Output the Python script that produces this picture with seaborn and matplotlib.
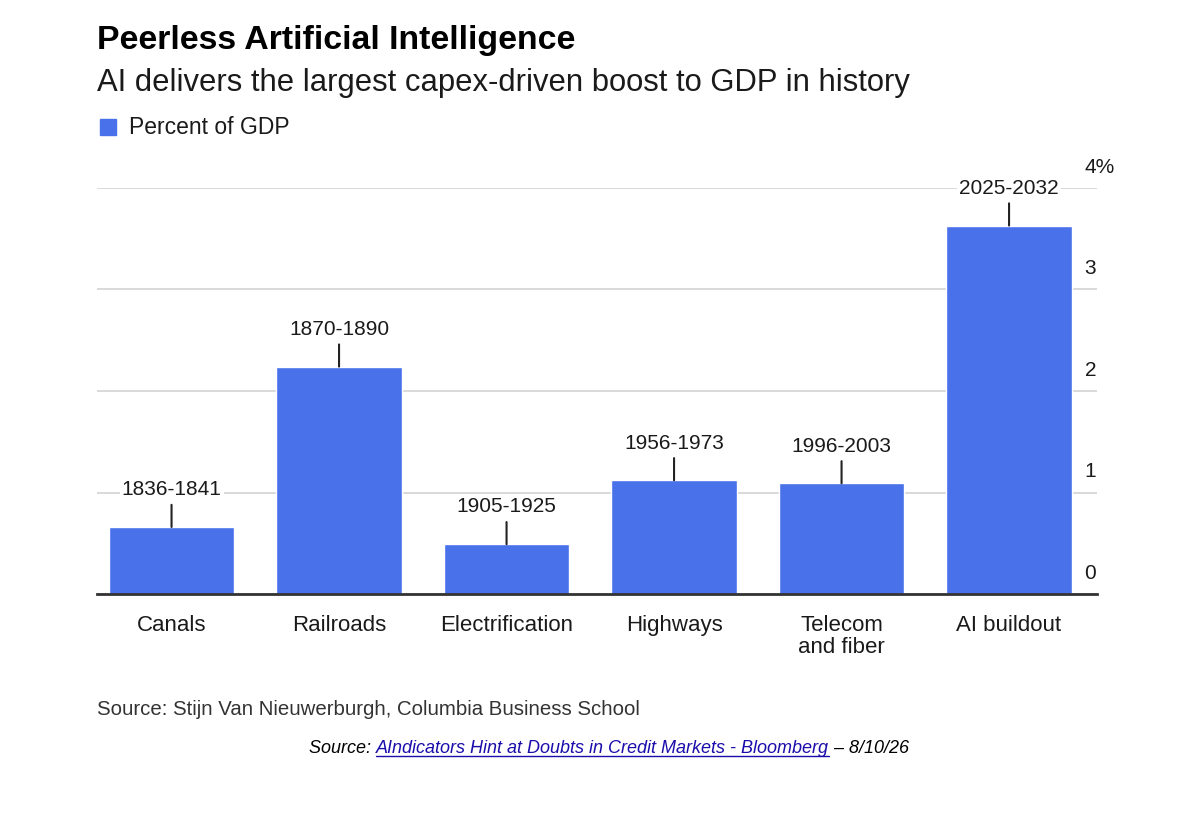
import matplotlib
matplotlib.use("Agg")
from matplotlib import pyplot as plt
from matplotlib import transforms
import seaborn as sns

# data
categories = ["Canals", "Railroads", "Electrification", "Highways", "Telecom\nand fiber", "AI buildout"]
periods = ["1836-1841", "1870-1890", "1905-1925", "1956-1973", "1996-2003", "2025-2032"]
pct_gdp = [0.66, 2.24, 0.49, 1.12, 1.09, 3.63]
y_ticks = [0, 1, 2, 3, 4]
y_tick_labels = ["0", "1", "2", "3", "4%"]

bar_color = "#4871EA"
text_color = "#1a1a1a"

sns.set_style("white")
plt.rcParams["font.family"] = ["Liberation Sans", "DejaVu Sans"]

fig = plt.figure(figsize=(11.79, 8.21), dpi=100)
ax = fig.add_axes([97 / 1179, 1 - 594 / 821, 1000 / 1179, 406 / 821])

sns.barplot(x=categories, y=pct_gdp, color=bar_color, saturation=1, width=0.75, ax=ax)

ax.set_xlim(-0.445, 5.525)
ax.set_ylim(0, 4)

# gridlines
ax.set_yticks(y_ticks)
ax.set_yticklabels(y_tick_labels)
ax.grid(axis="y", color="#d9d9d9", lw=1.4)
ax.set_axisbelow(True)
ax.yaxis.tick_right()
ax.tick_params(axis="y", length=0, pad=-9, labelsize=15, labelcolor=text_color)
offset = transforms.ScaledTranslation(0, 8 / 72, fig.dpi_scale_trans)
for lbl in ax.get_yticklabels():
    lbl.set_verticalalignment("bottom")
    lbl.set_horizontalalignment("left")
    lbl.set_transform(lbl.get_transform() + offset)

ax.tick_params(axis="x", length=8, width=1.5, color="#333333", pad=7,
               labelsize=16, labelcolor=text_color)
for lbl in ax.get_xticklabels():
    lbl.set_linespacing(1.1)

for side in ["top", "left", "right"]:
    ax.spines[side].set_visible(False)
ax.spines["bottom"].set_color("#333333")
ax.spines["bottom"].set_linewidth(2)
ax.set_xlabel("")
ax.set_ylabel("")

# period labels with little stems
for i, (p, v) in enumerate(zip(periods, pct_gdp)):
    ax.annotate("", xy=(i, v), xytext=(0, 16), textcoords="offset points",
                arrowprops=dict(arrowstyle="-", color="#222222", lw=1.5,
                                shrinkA=0, shrinkB=0))
    ax.annotate(p, xy=(i, v), xytext=(0, 20), textcoords="offset points",
                ha="center", va="bottom", fontsize=15, color=text_color,
                bbox=dict(facecolor="white", edgecolor="none", pad=1.5))

# titles and legend
fig.text(97 / 1179, 1 - 40 / 821, "Peerless Artificial Intelligence", fontsize=24.4,
         fontweight="bold", color="black", va="center")
fig.text(97 / 1179, 1 - 83 / 821, "AI delivers the largest capex-driven boost to GDP in history",
         fontsize=22.3, color=text_color, va="center")
fig.patches.append(plt.Rectangle((100 / 1179, 1 - 135 / 821), 16 / 1179, 16 / 821,
                                 transform=fig.transFigure, color=bar_color))
fig.text(129 / 1179, 1 - 127 / 821, "Percent of GDP", fontsize=16.5, color=text_color, va="center")

# sources
fig.text(97 / 1179, 1 - 709 / 821, "Source: Stijn Van Nieuwerburgh, Columbia Business School",
         fontsize=14.7, color="#333333", va="center")
t1 = fig.text(309 / 1179, 1 - 748 / 821, "Source: ", fontsize=13, style="italic",
              color="black", va="center")
fig.canvas.draw()
r = fig.canvas.get_renderer()
bb = t1.get_window_extent(r)
t2 = fig.text(bb.x1 / 1179, 1 - 748 / 821, "AIndicators Hint at Doubts in Credit Markets - Bloomberg",
              fontsize=13, style="italic", color="#1a0dab", va="center")
bb2 = t2.get_window_extent(r)
fig.add_artist(plt.Line2D([bb.x1 / 1179, bb2.x1 / 1179], [(bb2.y0 + 1) / 821] * 2,
                          color="#1a0dab", lw=1, transform=fig.transFigure))
fig.text(bb2.x1 / 1179, 1 - 748 / 821, " \u2013 8/10/26", fontsize=13, style="italic",
         color="black", va="center")

fig.savefig("out.png", dpi=100)
